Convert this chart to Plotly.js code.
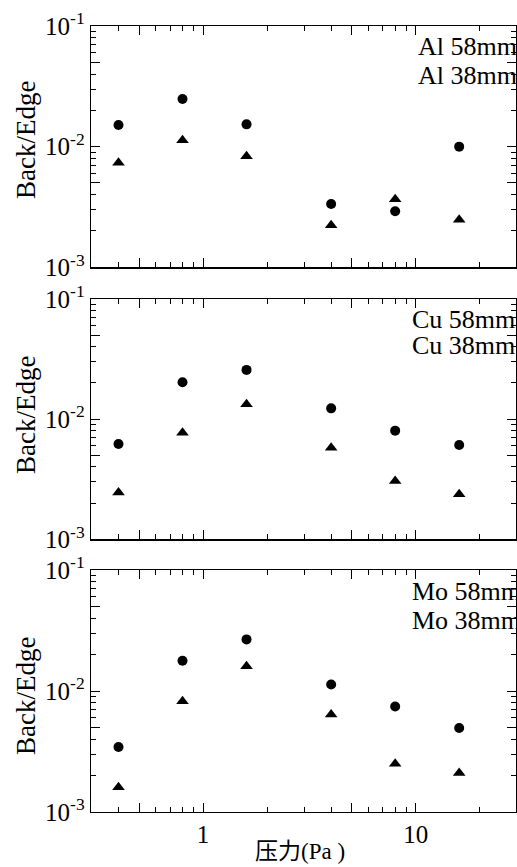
<!DOCTYPE html>
<html><head><meta charset="utf-8">
<script src="https://cdn.plot.ly/plotly-3.0.1.min.js"></script>
<style>html,body{margin:0;padding:0;background:#fff;overflow:hidden}</style>
</head><body><div id="chart" style="width:517px;height:867px"></div>
<script>
// ---- data ----
const pressure = [0.4, 0.8, 1.6, 4, 8, 16];
const al58 = [0.0151, 0.0248, 0.0153, 0.00335, 0.00291, 0.0100];
const al38 = [0.00737, 0.0113, 0.00832, 0.00223, 0.00367, 0.00248];
const cu58 = [0.00622, 0.0203, 0.0257, 0.0123, 0.00802, 0.00610];
const cu38 = [0.00245, 0.0077, 0.0133, 0.00579, 0.00306, 0.00237];
const mo58 = [0.00345, 0.0178, 0.0267, 0.0113, 0.00745, 0.00495];
const mo38 = [0.00160, 0.00824, 0.0160, 0.00640, 0.00250, 0.00210];
const labels58 = ["Al 58mm", "Cu 58mm", "Mo 58mm"];
const labels38 = ["Al 38mm", "Cu 38mm", "Mo 38mm"];
const yTitle = "Back/Edge";
const xTitleCJK = "压力";
const xTitleLatin = "(Pa )";
const xMajor = [0.5, 1, 5, 10];
const xMajorText = ["", "1", "", "10"];
const xMinor = [0.4, 0.6, 0.7, 0.8, 0.9, 2, 3, 4, 6, 7, 8, 9, 20];
const yMajor = [0.001, 0.005, 0.01, 0.05, 0.1];
const yMajorText = ["10<sup>-3</sup>", "", "10<sup>-2</sup>", "", "10<sup>-1</sup>"];
const yMinor = [0.002, 0.003, 0.004, 0.006, 0.007, 0.008, 0.009, 0.02, 0.03, 0.04, 0.06, 0.07, 0.08, 0.09];

// ---- layout helpers ----
const W = 517, H = 867, L = 91, R = 1, T = 26, B = 55;
const plotH = H - T - B;
const py = (ypx) => (H - B - ypx) / plotH;   // pixel -> paper y
const px = (xpx) => (xpx - L) / (W - L - R); // pixel -> paper x
const serif = "Liberation Serif, Times New Roman, serif";

const panels = [
  {s58: al58, s38: al38, top: 26, bot: 267.3, l1: 46, l2: 76, lx: 416, ty: 140},
  {s58: cu58, s38: cu38, top: 299, bot: 539.3, l1: 320, l2: 345, lx: 410, ty: 415},
  {s58: mo58, s38: mo38, top: 570, bot: 812, l1: 591.5, l2: 620.5, lx: 410, ty: 696}
];

const traces = [];
const layout = {
  width: W, height: H,
  margin: {l: L, r: R, t: T, b: B, pad: 0},
  paper_bgcolor: "#fff", plot_bgcolor: "#fff",
  showlegend: false,
  font: {family: serif, size: 25, color: "#000"},
  annotations: []
};

panels.forEach((p, i) => {
  const sfx = i === 0 ? "" : String(i + 1);
  const xa = "x" + sfx, ya = "y" + sfx;
  traces.push({
    x: pressure, y: p.s58, xaxis: xa, yaxis: ya, type: "scatter", mode: "markers",
    name: labels58[i], marker: {symbol: "circle", size: 10, color: "#000"}, cliponaxis: false
  });
  traces.push({
    x: pressure, y: p.s38, xaxis: xa, yaxis: ya, type: "scatter", mode: "markers",
    name: labels38[i], marker: {symbol: "triangle-up", size: 11, color: "#000"}, cliponaxis: false
  });
  layout["xaxis" + sfx] = {
    type: "log", range: [Math.log10(0.297), Math.log10(29.6)], anchor: ya,
    domain: [0, 1],
    showline: true, linecolor: "#000", linewidth: 1.3, mirror: "allticks",
    ticks: "inside", ticklen: 9, tickwidth: 1, tickcolor: "#000",
    tickmode: "array", tickvals: xMajor, ticktext: xMajorText,
    showticklabels: i === 2, tickfont: {family: serif, size: 25, color: "#000"},
    minor: {tickmode: "array", tickvals: xMinor, ticks: "inside", ticklen: 5, tickwidth: 1, tickcolor: "#000", showgrid: false},
    showgrid: false, zeroline: false, fixedrange: true
  };
  if (i > 0) layout["xaxis" + sfx].matches = "x";
  layout["yaxis" + sfx] = {
    type: "log", range: [-3, -1], anchor: xa,
    domain: [py(p.bot), py(p.top)],
    showline: true, linecolor: "#000", linewidth: 1.3, mirror: "allticks",
    ticks: "inside", ticklen: 9, tickwidth: 1, tickcolor: "#000",
    tickmode: "array", tickvals: yMajor, ticktext: yMajorText,
    tickfont: {family: serif, size: 25, color: "#000"},
    minor: {tickmode: "array", tickvals: yMinor, ticks: "inside", ticklen: 5, tickwidth: 1, tickcolor: "#000", showgrid: false},
    showgrid: false, zeroline: false, fixedrange: true
  };
  layout.annotations.push(
    {xref: "paper", yref: "paper", x: px(p.lx), y: py(p.l1), xanchor: "left", yanchor: "middle",
     text: labels58[i], showarrow: false, font: {family: serif, size: 26, color: "#000"}},
    {xref: "paper", yref: "paper", x: px(p.lx), y: py(p.l2), xanchor: "left", yanchor: "middle",
     text: labels38[i], showarrow: false, font: {family: serif, size: 26, color: "#000"}},
    {xref: "paper", yref: "paper", x: px(26), y: py(p.ty), xanchor: "center", yanchor: "middle",
     textangle: -90, text: yTitle, showarrow: false, font: {family: serif, size: 27, color: "#000"}}
  );
});
layout.annotations.push({
  xref: "paper", yref: "paper", x: px(300), y: py(849), xanchor: "center", yanchor: "middle",
  text: "<span style='font-family:Noto Sans CJK JP, Noto Sans CJK SC'>" + xTitleCJK + "</span>" + xTitleLatin,
  showarrow: false,
  font: {family: serif, size: 23, color: "#000"}
});

Plotly.newPlot("chart", traces, layout, {staticPlot: true, displayModeBar: false});
</script></body></html>
